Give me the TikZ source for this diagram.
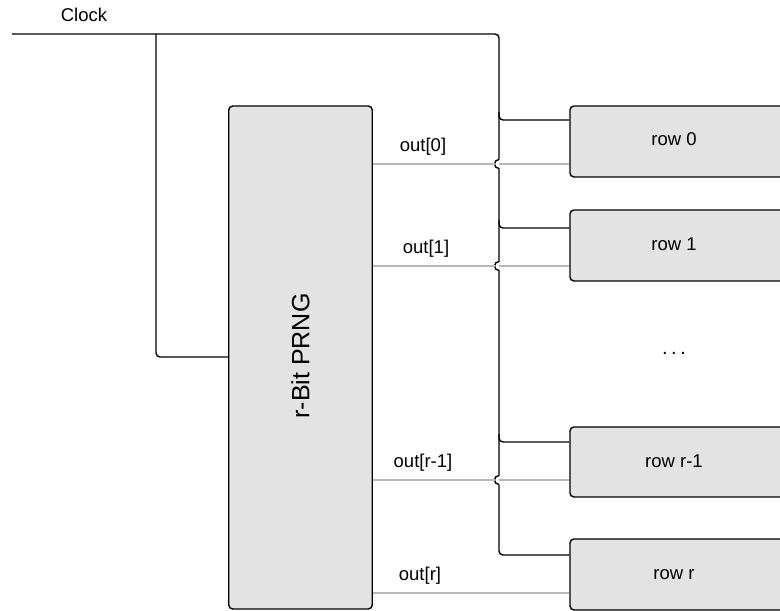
\documentclass[tikz,border=0pt]{standalone}
\usepackage{fontspec}
\setmainfont{Liberation Sans}
\begin{document}
\begin{tikzpicture}[x=1pt,y=-1pt,
  wire/.style={draw=black,line width=1.4pt},
  gwire/.style={draw=black!28,line width=1.1pt},
  boxstyle/.style={draw=black,fill=black!11,line width=1.4pt,rounded corners=4pt,inner sep=0pt},
  lbl/.style={font=\fontsize{18.5}{21}\selectfont,inner sep=0pt,text=black}]
\useasboundingbox (0,0) rectangle (780,611);
\clip (0,0) rectangle (780,611);
% boxes
\node[boxstyle,minimum width=143.5pt,minimum height=503pt] (prng) at (300.5,357.5) {};
\node[font=\fontsize{25}{28}\selectfont,rotate=90,inner sep=0pt] (prngt) at (300.5,356) {r-Bit PRNG};
\node[boxstyle,minimum width=240pt,minimum height=71pt] (row0) at (690,141.5) {};
\node[boxstyle,minimum width=240pt,minimum height=71pt] (row1) at (690,245.5) {};
\node[boxstyle,minimum width=240pt,minimum height=70pt] (rowr1) at (690,462) {};
\node[boxstyle,minimum width=240pt,minimum height=71pt] (rowr) at (690,574.5) {};
\node[lbl] (row0t) at (674,139) {row 0};
\node[lbl] (row1t) at (674,244) {row 1};
\node[lbl,font=\fontsize{20}{22}\selectfont] (dotst) at (674,353) {.\kern3.5pt.\kern3.5pt.};
\node[lbl] (rowr1t) at (674,461) {row r-1};
\node[lbl] (rowrt) at (674,575) {row r};
% labels
\node[lbl] (clockt) at (84,15) {Clock};
\node[lbl] (o0) at (423,147) {out[0]};
\node[lbl] (o1) at (426,249) {out[1]};
\node[lbl] (or1) at (423,463) {out[r-1]};
\node[lbl] (or) at (420,576) {out[r]};
% clock wiring
\coordinate (clk) at (12,34);
\draw[wire,rounded corners=4pt] (clk) -- (499,34) -- (499,159.5);
\draw[wire] (499,159.5) .. controls (496.5,159.5) and (494.5,161.5) .. (494.5,164)
  .. controls (494.5,166.5) and (496.5,168.5) .. (499,168.5) -- (499,261.5)
  .. controls (496.5,261.5) and (494.5,263.5) .. (494.5,266)
  .. controls (494.5,268.5) and (496.5,270.5) .. (499,270.5) -- (499,475.5)
  .. controls (496.5,475.5) and (494.5,477.5) .. (494.5,480)
  .. controls (494.5,482.5) and (496.5,484.5) .. (499,484.5);
\draw[wire,rounded corners=4pt] (499,484.5) -- (499,555) -- (rowr.west |- 0,555);
\draw[wire,rounded corners=4pt] (499,112) -- (499,120) -- (row0.west |- 0,120);
\draw[wire,rounded corners=4pt] (499,220) -- (499,228) -- (row1.west |- 0,228);
\draw[wire,rounded corners=4pt] (499,434) -- (499,442) -- (rowr1.west |- 0,442);
\draw[wire,rounded corners=4pt] (156,34) -- (156,357) -- (prng.west |- 0,357);
% outputs
\draw[gwire] (prng.east |- 0,164) -- (494.5,164);
\draw[gwire] (499,164) -- (row0.west |- 0,164);
\draw[gwire] (prng.east |- 0,266) -- (494.5,266);
\draw[gwire] (499,266) -- (row1.west |- 0,266);
\draw[gwire] (prng.east |- 0,480) -- (494.5,480);
\draw[gwire] (499,480) -- (rowr1.west |- 0,480);
\draw[gwire] (prng.east |- 0,593) -- (rowr.west |- 0,593);
\end{tikzpicture}
\end{document}
